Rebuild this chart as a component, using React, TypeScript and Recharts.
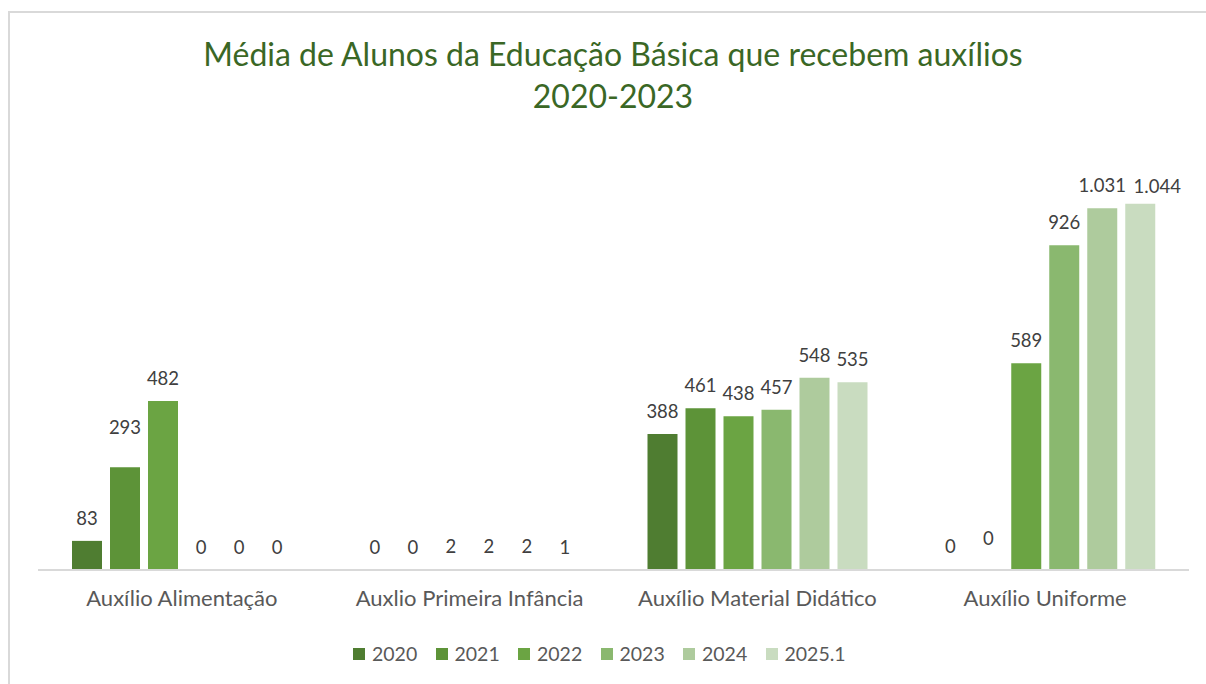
import { BarChart, Bar, XAxis, YAxis, Legend, LabelList } from "recharts";

const categories = [
  "Auxílio Alimentação",
  "Auxlio Primeira Infância",
  "Auxílio Material Didático",
  "Auxílio Uniforme",
];

const seriesNames = ["2020", "2021", "2022", "2023", "2024", "2025.1"];

const values2020 = [83, 0, 388, 0];
const values2021 = [293, 0, 461, 0];
const values2022 = [482, 2, 438, 589];
const values2023 = [0, 2, 457, 926];
const values2024 = [0, 2, 548, 1031];
const values2025 = [0, 1, 535, 1044];

const colors = ["#4f7d31", "#5d9338", "#6ba443", "#8ab86f", "#aecb9d", "#c9dcc0"];

// the excel chart had a few labels dragged by hand: [dx, dy]
const labelNudge: Record<string, [number, number]> = {
  "s1-0": [0, -17],
  "s0-3": [0, -1],
  "s1-3": [0, -9],
  "s5-3": [17, 5],
};

const allValues = [values2020, values2021, values2022, values2023, values2024, values2025];

const data = categories.map((name, i) => {
  const row: Record<string, string | number> = { name };
  allValues.forEach((vals, s) => {
    row["s" + s] = vals[i];
  });
  return row;
});

const font = "Lato, 'Open Sans', sans-serif";

const fmt = (v: number) => String(v).replace(/\B(?=(\d{3})+(?!\d))/g, ".");

const makeLabel = (key: string) => (props: any) => {
  const vb = props.viewBox ?? props;
  const x = Number(vb.x);
  const y = Number(vb.y);
  const w = Number(vb.width);
  const [dx, dy] = labelNudge[`${key}-${props.index}`] ?? [0, 0];
  return (
    <text x={x + w / 2 + dx} y={y - 16 + dy} textAnchor="middle" fill="#404040" fontSize={18.5} fontFamily={font}>
      {fmt(Number(props.value))}
    </text>
  );
};

const LegendContent = () => (
  <div style={{ display: "flex", alignItems: "center", fontFamily: font, fontSize: 19.5, color: "#595959" }}>
    {seriesNames.map((n, i) => (
      <div key={n} style={{ display: "flex", alignItems: "center", width: i < 5 ? 82.5 : "auto" }}>
        <span style={{ width: 12, height: 12, background: colors[i], display: "inline-block", marginRight: 7 }} />
        <span>{n}</span>
      </div>
    ))}
  </div>
);

export default function App() {
  return (
    <div style={{ position: "absolute", left: 0, top: 0, width: 1206, height: 684, overflow: "hidden", background: "#fff" }}>
      <div
        style={{
          position: "absolute",
          left: 8,
          top: 11,
          width: 1300,
          height: 800,
          border: "2px solid #d9d9d9",
        }}
      />
      <div
        style={{
          position: "absolute",
          left: 0,
          top: 33,
          width: 1226,
          textAlign: "center",
          fontFamily: font,
          fontSize: 32,
          lineHeight: "42px",
          color: "#3a6725",
        }}
      >
        Média de Alunos da Educação Básica que recebem auxílios
        <br />
        2020-2023
      </div>
      <div style={{ position: "absolute", left: 0, top: 0 }}>
        <BarChart
          width={1206}
          height={684}
          data={data}
          margin={{ top: 149, right: 17, left: 38, bottom: 84 }}
          barSize={30}
          barGap={8}
        >
          <XAxis
            dataKey="name"
            height={30}
            tickLine={false}
            axisLine={{ stroke: "#d9d9d9", strokeWidth: 2 }}
            tick={{ fill: "#595959", fontSize: 22, fontFamily: font, dy: 12 }}
            interval={0}
          />
          <YAxis hide domain={[0, 1200]} />
          <Legend
            verticalAlign="middle"
            layout="horizontal"
            content={<LegendContent />}
            wrapperStyle={{ left: 353, top: 642, width: "auto" }}
          />
          {seriesNames.map((n, i) => (
            <Bar
              key={n}
              dataKey={"s" + i}
              name={n}
              fill={colors[i]}
              minPointSize={(v: number) => (v === 0 ? 0.001 : 0)}
              isAnimationActive={false}
            >
              <LabelList dataKey={"s" + i} content={makeLabel("s" + i)} />
            </Bar>
          ))}
        </BarChart>
      </div>
    </div>
  );
}
